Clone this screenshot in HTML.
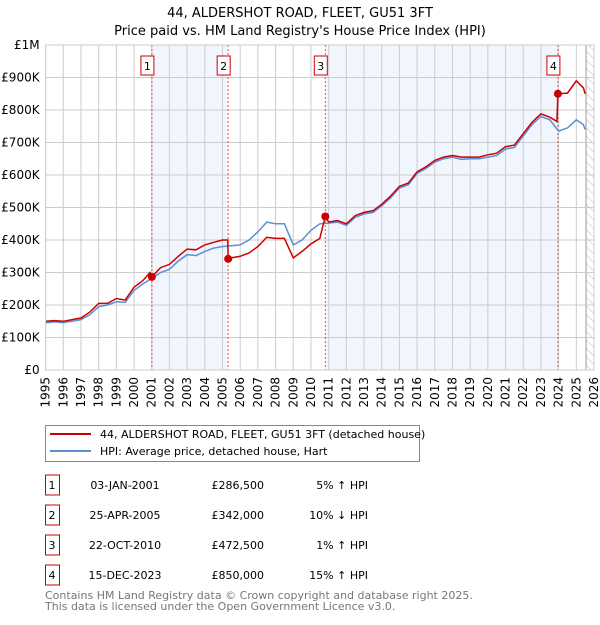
<!DOCTYPE html>
<html><head><meta charset="utf-8"><style>
body{margin:0;background:#fff;font-family:"Liberation Sans","DejaVu Sans",sans-serif;}
svg text{font-family:"DejaVu Sans","Liberation Sans",sans-serif;}
</style></head><body>
<svg id="c" width="600" height="620" xmlns="http://www.w3.org/2000/svg">
<defs><pattern id="hatch" width="6" height="6" patternUnits="userSpaceOnUse" patternTransform="rotate(-45)"><line x1="0" y1="0" x2="0" y2="6" stroke="#bbb" stroke-width="1"/></pattern></defs>
<text x="300" y="17" text-anchor="middle" font-size="13">44, ALDERSHOT ROAD, FLEET, GU51 3FT</text>
<text x="300" y="35" text-anchor="middle" font-size="13">Price paid vs. HM Land Registry's House Price Index (HPI)</text>
<g id="plot"></g>
<g>
<rect x="45.5" y="425.5" width="374" height="36" fill="#fff" stroke="#888"/>
<line x1="50" y1="434" x2="91" y2="434" stroke="#cc0000" stroke-width="2"/>
<text x="100" y="438" font-size="11">44, ALDERSHOT ROAD, FLEET, GU51 3FT (detached house)</text>
<line x1="50" y1="451" x2="91" y2="451" stroke="#5b8fd4" stroke-width="2"/>
<text x="100" y="455" font-size="11">HPI: Average price, detached house, Hart</text>
</g>
<g id="table" font-size="11"></g>
<text x="45" y="599" font-size="11" fill="#777">Contains HM Land Registry data © Crown copyright and database right 2025.</text>
<text x="45" y="610" font-size="11" fill="#777">This data is licensed under the Open Government Licence v3.0.</text>
</svg>
<script>
const hpiYears=[1995,1995.5,1996,1996.5,1997,1997.5,1998,1998.5,1999,1999.5,2000,2000.5,2001,2001.5,2002,2002.5,2003,2003.5,2004,2004.5,2005,2005.5,2006,2006.5,2007,2007.5,2008,2008.5,2009,2009.5,2010,2010.5,2011,2011.5,2012,2012.5,2013,2013.5,2014,2014.5,2015,2015.5,2016,2016.5,2017,2017.5,2018,2018.5,2019,2019.5,2020,2020.5,2021,2021.5,2022,2022.5,2023,2023.5,2024,2024.5,2025,2025.4,2025.5];
const hpiValues=[145,148,146,150,155,170,195,200,210,208,245,265,282,300,310,335,355,352,365,375,380,382,385,400,425,455,450,450,385,400,430,450,452,455,445,470,480,485,505,530,560,570,605,620,640,650,655,648,650,650,655,660,680,685,720,755,780,770,735,745,770,755,740];
const propYears=[1995,1995.5,1996,1996.5,1997,1997.5,1998,1998.5,1999,1999.5,2000,2000.5,2000.9,2001.01,2001.5,2002,2002.5,2003,2003.5,2004,2004.5,2005,2005.3,2005.32,2005.5,2006,2006.5,2007,2007.5,2008,2008.5,2009,2009.5,2010,2010.5,2010.81,2011,2011.5,2012,2012.5,2013,2013.5,2014,2014.5,2015,2015.5,2016,2016.5,2017,2017.5,2018,2018.5,2019,2019.5,2020,2020.5,2021,2021.5,2022,2022.5,2023,2023.5,2023.9,2023.96,2024.5,2025,2025.4,2025.5];
const propValues=[150,152,150,155,160,178,205,205,220,215,255,275,300,286.5,315,325,350,372,370,385,393,400,400,342,345,350,360,380,408,405,405,345,365,388,405,472.5,455,460,450,475,485,490,510,535,565,575,610,625,645,655,660,655,655,655,662,667,687,692,727,762,788,778,765,850,852,890,868,850];
const saleLabels=["1","2","3","4"];
const saleYears=[2001.01,2005.32,2010.81,2023.96];
const salePrices=[286.5,342,472.5,850];
const saleDates=["03-JAN-2001","25-APR-2005","22-OCT-2010","15-DEC-2023"];
const salePriceText=["£286,500","£342,000","£472,500","£850,000"];
const saleHpiText=["5% ↑ HPI","10% ↓ HPI","1% ↑ HPI","15% ↑ HPI"];
const yTicks=[0,100,200,300,400,500,600,700,800,900,1000];
const yTickLabels=["£0","£100K","£200K","£300K","£400K","£500K","£600K","£700K","£800K","£900K","£1M"];
const xTicks=[];for(let y=1995;y<=2026;y++)xTicks.push(y);

const L=45.6,R=594,T=45,B=370,Y0=1995,Y1=2026;
const xs=v=>L+(v-Y0)/(Y1-Y0)*(R-L);
const ys=v=>B-v/1000*(B-T);
const NS="http://www.w3.org/2000/svg";
const g=document.getElementById('plot');
function mk(tag,attrs,parent){const e=document.createElementNS(NS,tag);for(const k in attrs)e.setAttribute(k,attrs[k]);(parent||g).appendChild(e);return e;}
// shading
[[0,1],[2,3]].forEach(p=>{const r=mk('rect',{x:xs(saleYears[p[0]]),y:T,width:xs(saleYears[p[1]])-xs(saleYears[p[0]]),height:B-T,fill:'#eef3fc',opacity:0.8});

});
const hx=xs(2025.55);
const hr=mk('rect',{x:hx,y:T,width:R-hx,height:B-T,fill:'url(#hatch)'});


mk('line',{x1:hx,y1:T,x2:hx,y2:B,stroke:'#999','stroke-width':1});
// grid
xTicks.forEach(t=>{mk('line',{x1:xs(t),y1:T,x2:xs(t),y2:B,stroke:'#ccc','stroke-width':1});
const tx=mk('text',{x:0,y:0,'font-size':12,'text-anchor':'end',transform:`translate(${xs(t)+4},${B+7}) rotate(-90)`});tx.textContent=t;

});
yTicks.forEach((t,i)=>{mk('line',{x1:L,y1:ys(t),x2:R,y2:ys(t),stroke:'#ccc','stroke-width':1});
const tx=mk('text',{x:L-6,y:ys(t)+4,'font-size':12,'text-anchor':'end'});tx.textContent=yTickLabels[i];

});
// sale lines
saleYears.forEach((s,i)=>{mk('line',{x1:xs(s),y1:T,x2:xs(s),y2:B,stroke:'#e05050','stroke-width':1,'stroke-dasharray':'2,2'});
const b=mk('rect',{x:xs(s)-11,y:56,width:13,height:19,fill:'#fff',stroke:'#cc0000'});


const t=mk('text',{x:xs(s)-4.5,y:70,'font-size':11,'text-anchor':'middle'});t.textContent=saleLabels[i];});
function path(xa,va){return xa.map((x,i)=>(i?'L':'M')+xs(x).toFixed(1)+','+ys(va[i]).toFixed(1)).join('');}
const hp=mk('path',{d:path(hpiYears,hpiValues),fill:'none',stroke:'#5b8fd4','stroke-width':1.5});


const pp=mk('path',{d:path(propYears,propValues),fill:'none',stroke:'#cc0000','stroke-width':1.5});


saleYears.forEach((s,i)=>{const c=mk('circle',{cx:xs(s),cy:ys(salePrices[i]),r:4,fill:'#cc0000'});

});
mk('rect',{x:L,y:T,width:R-L,height:B-T,fill:'none',stroke:'#ccc'});
// table
const tb=document.getElementById('table');
saleLabels.forEach((l,i)=>{const y=483+i*30;
const b=mk('rect',{x:45.5,y:y-8,width:14,height:20,fill:'#fff',stroke:'#cc0000'},tb);


const n=mk('text',{x:52,y:y+6,'text-anchor':'middle'},tb);n.textContent=l;
const d=mk('text',{x:125,y:y+6,'text-anchor':'middle'},tb);d.textContent=saleDates[i];


const p=mk('text',{x:264,y:y+6,'text-anchor':'end'},tb);p.textContent=salePriceText[i];


const h=mk('text',{x:368,y:y+6,'text-anchor':'end'},tb);h.textContent=saleHpiText[i];

});
</script>
</body></html>
